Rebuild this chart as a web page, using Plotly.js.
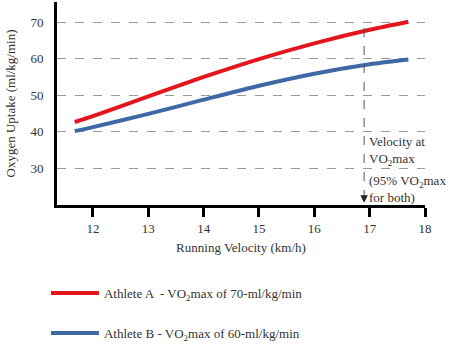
<!DOCTYPE html>
<html><head><meta charset="utf-8">
<script src="https://cdn.plot.ly/plotly-3.0.1.min.js"></script>
<style>html,body{margin:0;padding:0;background:#fff;}#chart{width:456px;height:358px;}</style>
</head><body><div id="chart"></div>
<script>
const velocity = [11.67, 12, 13, 14, 15, 16, 17, 17.7];
const athleteA = [42.7, 44.3, 49.7, 55.0, 59.9, 64.2, 67.9, 70.1];
const athleteB = [40.2, 41.3, 44.9, 48.8, 52.6, 55.9, 58.5, 59.8];
const xTicks = [12, 13, 14, 15, 16, 17, 18];
const yTicks = [30, 40, 50, 60, 70];
const vo2maxVelocity = 16.9;
const vo2maxMarkY = 68.4;
const nameA = "Athlete A  - VO<sub>2</sub>max of 70-ml/kg/min";
const nameB = "Athlete B - VO<sub>2</sub>max of 60-ml/kg/min";

const font = "Liberation Serif, Times New Roman, serif";
const traces = [
  {x: velocity, y: athleteA, mode: "lines", name: nameA, legendgroup: "a",
   line: {color: "#e3161d", width: 4, shape: "spline", smoothing: 0.7}},
  {x: velocity, y: athleteB, mode: "lines", name: nameB, legendgroup: "b",
   line: {color: "#3f68a6", width: 4, shape: "spline", smoothing: 0.7}}
];
const layout = {
  width: 456, height: 358,
  margin: {l: 57, r: 31, t: 2, b: 153},
  paper_bgcolor: "#fff", plot_bgcolor: "#fff",
  font: {family: font, size: 13, color: "#333"},
  showlegend: true,
  legend: {x: -0.03, xanchor: "left", y: -0.36, yanchor: "top", itemwidth: 48,
           tracegroupgap: 20, font: {family: font, size: 13, color: "#333"},
           bgcolor: "rgba(0,0,0,0)"},
  xaxis: {range: [11.35, 18.0], tickvals: xTicks, ticks: "outside", ticklen: 9,
          tickwidth: 3, tickcolor: "#000", showline: true, linewidth: 3, linecolor: "#000",
          showgrid: false, zeroline: false, fixedrange: true,
          title: {text: "Running Velocity (km/h)", standoff: 9, font: {family: font, size: 13, color: "#333"}}},
  yaxis: {range: [20, 75.5], tickvals: yTicks, ticks: "", ticklabelstandoff: 8,
          showline: true, linewidth: 3, linecolor: "#000",
          showgrid: true, gridcolor: "#999", griddash: "dash", gridwidth: 1,
          zeroline: false, fixedrange: true,
          title: {text: "Oxygen Uptake (ml/kg/min)", standoff: 12, font: {family: font, size: 13, color: "#333"}}},
  shapes: [
    {type: "line", xref: "x", yref: "y", x0: vo2maxVelocity, x1: vo2maxVelocity,
     y0: vo2maxMarkY, y1: 21.5, line: {color: "#555", width: 1, dash: "dash"}}
  ],
  annotations: [
    {x: vo2maxVelocity, y: 20.6, xref: "x", yref: "y", ax: 0, ay: -8, axref: "pixel", ayref: "pixel",
     showarrow: true, arrowhead: 2, arrowsize: 1, arrowwidth: 1.5, arrowcolor: "#222", text: ""},
    {x: vo2maxVelocity, y: 34.9, xref: "x", yref: "y", xanchor: "left", yanchor: "middle", xshift: 3,
     align: "left", showarrow: false, text: "Velocity at<br>VO<sub>2</sub>max",
     font: {family: font, size: 13, color: "#333"}},
    {x: vo2maxVelocity, y: 24.3, xref: "x", yref: "y", xanchor: "left", yanchor: "middle", xshift: 3,
     align: "left", showarrow: false, text: "(95% VO<sub>2</sub>max<br>for both)",
     font: {family: font, size: 13, color: "#333"}}
  ]
};
Plotly.newPlot("chart", traces, layout, {displayModeBar: false, staticPlot: true});
</script></body></html>
